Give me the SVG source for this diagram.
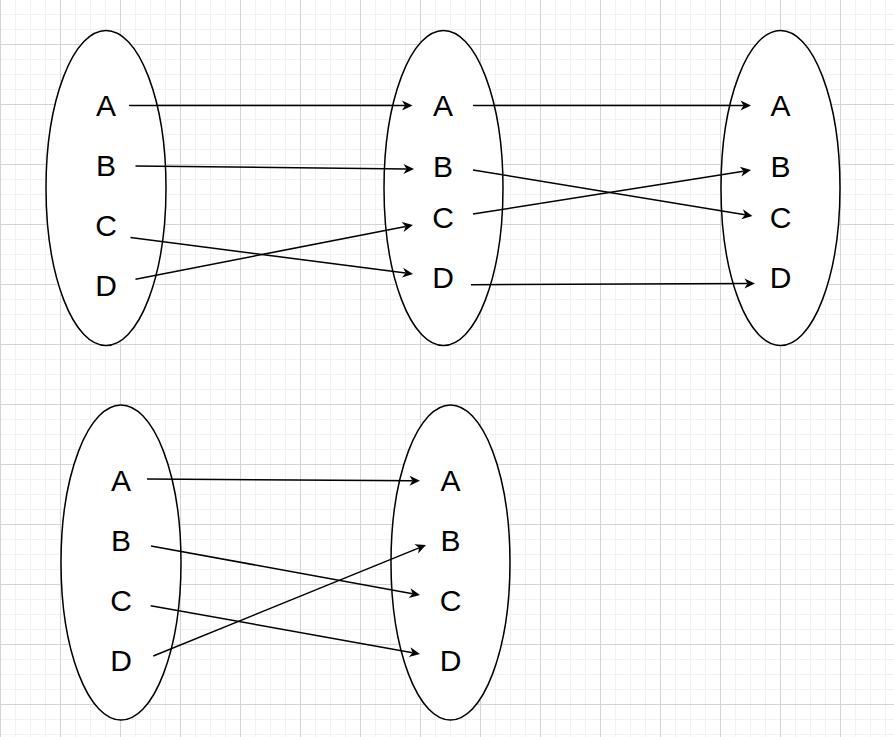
<svg xmlns="http://www.w3.org/2000/svg" width="894" height="737" viewBox="0 0 894 737">
<defs>
<pattern id="grid" patternUnits="userSpaceOnUse" x="0" y="44" width="60" height="60">
<rect width="60" height="60" fill="#ffffff"/>
<rect x="15" y="0" width="1" height="60" fill="#f1f1f1"/>
<rect x="30" y="0" width="1" height="60" fill="#f1f1f1"/>
<rect x="45" y="0" width="1" height="60" fill="#f1f1f1"/>
<rect x="0" y="15" width="60" height="1" fill="#f1f1f1"/>
<rect x="0" y="30" width="60" height="1" fill="#f1f1f1"/>
<rect x="0" y="45" width="60" height="1" fill="#f1f1f1"/>
<rect x="0" y="0" width="1" height="60" fill="#d4d4d4"/>
<rect x="0" y="0" width="60" height="1" fill="#d4d4d4"/>
</pattern>
<marker id="arrow" markerUnits="userSpaceOnUse" markerWidth="11" markerHeight="11" refX="3" refY="5" orient="auto" overflow="visible">
<path d="M0,0 L10.5,5 L0,10 L3,5 Z" fill="#000000"/>
</marker>
</defs>
<style>
.set { fill: #ffffff; stroke: #000000; stroke-width: 1.5; }
.lbl { font-family: "Liberation Sans", Arial, sans-serif; font-size: 30px; fill: #000000; text-anchor: middle; }
.edge { fill: none; stroke: #000000; stroke-width: 1.5; marker-end: url(#arrow); }
</style>
<rect x="0" y="0" width="894" height="737" fill="url(#grid)"/>

<g id="set1">
<ellipse class="set" cx="106" cy="188" rx="60" ry="157.5"/>
<text class="lbl" x="106" y="116">A</text>
<text class="lbl" x="106" y="176">B</text>
<text class="lbl" x="106" y="236">C</text>
<text class="lbl" x="106" y="296">D</text>
</g>
<g id="set2">
<ellipse class="set" cx="443.5" cy="188" rx="59.5" ry="157.5"/>
<text class="lbl" x="443" y="116">A</text>
<text class="lbl" x="443" y="176.5">B</text>
<text class="lbl" x="443" y="227.5">C</text>
<text class="lbl" x="443" y="288">D</text>
</g>
<g id="set3">
<ellipse class="set" cx="780.5" cy="188" rx="59.5" ry="157.5"/>
<text class="lbl" x="780.5" y="116">A</text>
<text class="lbl" x="780.5" y="176.5">B</text>
<text class="lbl" x="780.5" y="227.5">C</text>
<text class="lbl" x="780.5" y="288">D</text>
</g>
<g id="set4">
<ellipse class="set" cx="121" cy="562.5" rx="60" ry="157.5"/>
<text class="lbl" x="121" y="490.5">A</text>
<text class="lbl" x="121" y="550.5">B</text>
<text class="lbl" x="121" y="610.5">C</text>
<text class="lbl" x="121" y="670.5">D</text>
</g>
<g id="set5">
<ellipse class="set" cx="450.5" cy="562.5" rx="59.5" ry="157.5"/>
<text class="lbl" x="450.5" y="491">A</text>
<text class="lbl" x="450.5" y="551">B</text>
<text class="lbl" x="450.5" y="610.5">C</text>
<text class="lbl" x="450.5" y="670.5">D</text>
</g>

<g id="connectors">
<path class="edge" d="M129,105.5 L405,105.5"/>
<path class="edge" d="M135.5,166 L406.5,168.92"/>
<path class="edge" d="M130.5,237.5 L405.6,273.05"/>
<path class="edge" d="M135.5,279.3 L405.6,226.44"/>
<path class="edge" d="M473,105.5 L743.5,105.5"/>
<path class="edge" d="M473,170 L745.1,214.78"/>
<path class="edge" d="M473,214 L743.6,171.17"/>
<path class="edge" d="M471,284.7 L747.5,283.53"/>
<path class="edge" d="M147,479 L412.5,480.66"/>
<path class="edge" d="M151,546 L412.6,593.66"/>
<path class="edge" d="M150.7,605.7 L412.6,652.67"/>
<path class="edge" d="M153.3,656 L419.05,547.83"/>
</g>
</svg>
